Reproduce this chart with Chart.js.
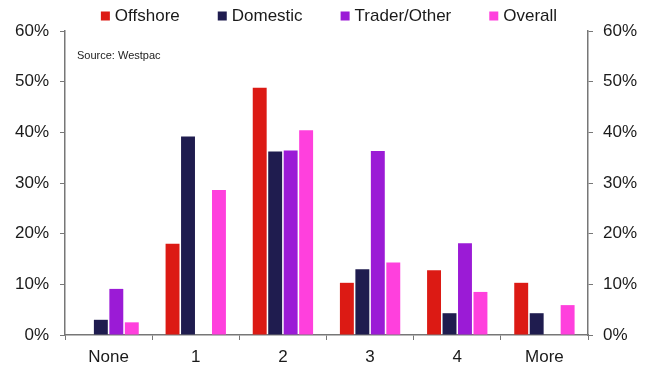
<!DOCTYPE html>
<html>
<head>
<meta charset="utf-8">
<script src="https://cdn.jsdelivr.net/npm/chart.js@4/dist/chart.umd.min.js"></script>
<style>
  body { margin: 0; background: #fff; }
  #wrap { width: 654px; height: 367px; }
</style>
</head>
<body>
<div id="wrap"><canvas id="chart" width="654" height="367"></canvas></div>
<script>
var categories = ['None', '1', '2', '3', '4', 'More'];
var offshore = [0, 18, 48.8, 10.3, 12.8, 10.3];
var domestic = [3, 39.2, 36.2, 13, 4.3, 4.3];
var trader = [9.1, 0, 36.4, 36.3, 18.1, 0];
var overall = [2.5, 28.6, 40.4, 14.3, 8.5, 5.9];

var font = 'Arial, "Liberation Sans", sans-serif';

// legend row across the top + source note, drawn by hand so spacing matches
var extras = {
	id: 'extras',
	afterDraw: function(c) {
		var g = c.ctx;
		g.save();
		g.font = '17px ' + font;
		g.textBaseline = 'middle';
		var sets = c.data.datasets;
		var gap = 38;
		var total = 0;
		for (var i = 0; i < sets.length; i++) {
			total += 9 + 5 + g.measureText(sets[i].label).width;
		}
		total += gap * (sets.length - 1);
		var x = 329 - total / 2;
		for (var i = 0; i < sets.length; i++) {
			g.fillStyle = sets[i].backgroundColor;
			g.fillRect(x, 11.5, 9, 9);
			g.fillStyle = '#1a1a1a';
			g.fillText(sets[i].label, x + 14, 16);
			x += 9 + 5 + g.measureText(sets[i].label).width + gap;
		}
		g.font = '11px ' + font;
		g.fillStyle = '#222';
		g.fillText('Source: Westpac', c.chartArea.left + 12, 56);
		g.restore();
	}
};

function bar(label, data, color) {
	return {
		label: label,
		data: data,
		backgroundColor: color,
		borderWidth: 0,
		categoryPercentage: 0.71,
		barPercentage: 0.9
	};
}

function pct(v) { return v + '%'; }

var ctx = document.getElementById('chart');
var chart = new Chart(ctx, {
	type: 'bar',
	data: {
		labels: categories,
		datasets: [
			bar('Offshore', offshore, '#dc1a14'),
			bar('Domestic', domestic, '#1f1c4f'),
			bar('Trader/Other', trader, '#9b1bd6'),
			bar('Overall', overall, '#ff40dd')
		]
	},
	options: {
		responsive: false,
		animation: false,
		layout: { padding: { top: 31, left: 0, right: 0, bottom: 0 } },
		plugins: {
			tooltip: { enabled: false },
			legend: { display: false }
		},
		scales: {
			x: {
				grid: { display: true, drawOnChartArea: false, color: '#777', tickLength: 5, offset: true },
				border: { color: '#777', width: 1.5 },
				ticks: { color: '#1a1a1a', font: { family: font, size: 17 }, padding: 7 },
				afterFit: function(s) { s.height = 32; }
			},
			y: {
				position: 'left',
				min: 0, max: 60,
				grid: { display: true, drawOnChartArea: false, color: '#777', tickLength: 5 },
				border: { color: '#777', width: 1.5 },
				ticks: { stepSize: 10, color: '#1a1a1a', font: { family: font, size: 17 }, padding: 11, callback: pct },
				afterFit: function(s) { s.width = 65; }
			},
			y2: {
				position: 'right',
				min: 0, max: 60,
				grid: { display: true, drawOnChartArea: false, color: '#777', tickLength: 5 },
				border: { color: '#777', width: 1.5 },
				ticks: { stepSize: 10, color: '#1a1a1a', font: { family: font, size: 17 }, padding: 10, callback: pct },
				afterFit: function(s) { s.width = 66; }
			}
		}
	},
	plugins: [extras]
});
</script>
</body>
</html>
